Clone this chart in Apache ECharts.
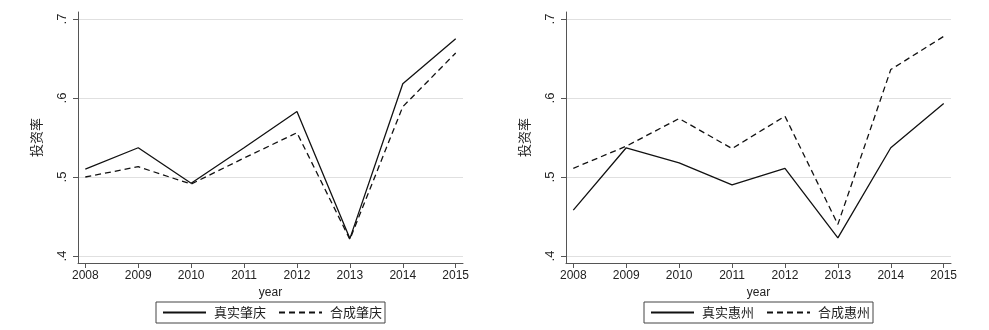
<!DOCTYPE html>
<html>
<head>
<meta charset="utf-8">
<script src="https://cdn.jsdelivr.net/npm/echarts@6/dist/echarts.min.js"></script>
<style>
html,body{margin:0;padding:0;background:#fff;}
#main{width:989px;height:330px;}
</style>
</head>
<body>
<div id="main"></div>
<script>
var years = [2008, 2009, 2010, 2011, 2012, 2013, 2014, 2015];
var yTicks = [0.4, 0.5, 0.6, 0.7];
var realZQ  = [0.510, 0.537, 0.492, 0.537, 0.583, 0.422, 0.618, 0.675];
var synthZQ = [0.500, 0.513, 0.491, 0.524, 0.556, 0.421, 0.589, 0.657];
var realHZ  = [0.458, 0.537, 0.518, 0.490, 0.511, 0.423, 0.537, 0.593];
var synthHZ = [0.511, 0.539, 0.574, 0.536, 0.577, 0.440, 0.636, 0.678];
var namesZQ = ['真实肇庆', '合成肇庆'];
var namesHZ = ['真实惠州', '合成惠州'];

var numFont = '"Liberation Sans", Arial, sans-serif';
var cjkFont = '"Noto Sans CJK SC", sans-serif';

function pairs(vals) {
  return years.map(function (y, i) { return [y, vals[i]]; });
}

function xAxisCfg(gi) {
  return {
    type: 'value', gridIndex: gi, min: 2007.862, max: 2015.138,
    name: 'year', nameLocation: 'middle', nameGap: 19,
    nameTextStyle: { fontFamily: numFont, fontSize: 12, color: '#222' },
    axisLine: { show: true, lineStyle: { color: '#555', width: 1 } },
    axisTick: { show: true, length: 5, lineStyle: { color: '#555' }, customValues: years },
    axisLabel: { customValues: years, fontFamily: numFont, fontSize: 12, color: '#222', margin: 7,
      formatter: function (v) { return String(Math.round(v)); } },
    splitLine: { show: false }
  };
}
function yAxisCfg(gi) {
  return {
    type: 'value', gridIndex: gi, min: 0.39114, max: 0.70886,
    name: '投资率', nameLocation: 'middle', nameGap: 35, nameRotate: 90,
    nameTextStyle: { fontFamily: cjkFont, fontSize: 13, color: '#222' },
    axisLine: { show: true, lineStyle: { color: '#555', width: 1 } },
    axisTick: { show: true, length: 5, lineStyle: { color: '#555' }, customValues: yTicks },
    axisLabel: { customValues: yTicks, rotate: 90, fontFamily: numFont, fontSize: 13, color: '#222', margin: 9,
      formatter: function (v) { return v.toFixed(1).replace(/^0/, ''); } },
    splitLine: { show: true, lineStyle: { color: '#e0e0e0', width: 1 } }
  };
}
function lineSeries(name, vals, gi, dashed) {
  return {
    type: 'line', name: name, xAxisIndex: gi, yAxisIndex: gi,
    data: pairs(vals), symbol: 'none', silent: true, animation: false,
    lineStyle: { color: '#111', width: 1.3, type: dashed ? [6, 4] : 'solid' },
    itemStyle: { color: '#111' }
  };
}
function legendCfg(names, left) {
  return {
    data: names, left: left, top: 302, orient: 'horizontal',
    itemWidth: 43, itemHeight: 12, itemGap: 12,
    padding: [4, 3, 4, 6],
    borderColor: '#444', borderWidth: 1,
    itemStyle: { color: 'rgba(0,0,0,0)', borderWidth: 0, opacity: 0 },
    textStyle: { fontFamily: cjkFont, fontSize: 13, color: '#222', padding: [0, 0, 0, 3] },
    selectedMode: false
  };
}

var chart = echarts.init(document.getElementById('main'), null, { renderer: 'canvas' });
chart.setOption({
  backgroundColor: '#fff',
  animation: false,
  grid: [
    { left: 78, right: 526, top: 12, bottom: 67 },
    { left: 566, right: 38, top: 12, bottom: 67 }
  ],
  xAxis: [xAxisCfg(0), xAxisCfg(1)],
  yAxis: [yAxisCfg(0), yAxisCfg(1)],
  legend: [legendCfg(namesZQ, 156), legendCfg(namesHZ, 644)],
  series: [
    lineSeries(namesZQ[0], realZQ, 0, false),
    lineSeries(namesZQ[1], synthZQ, 0, true),
    lineSeries(namesHZ[0], realHZ, 1, false),
    lineSeries(namesHZ[1], synthHZ, 1, true)
  ]
});
</script>
</body>
</html>
